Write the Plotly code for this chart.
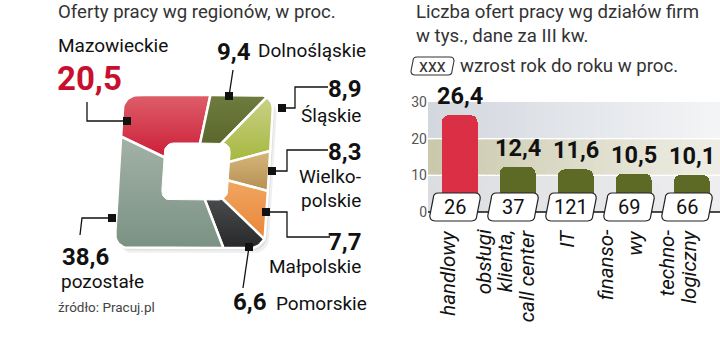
import numpy as np
import plotly.graph_objects as go

# ---------------- data ----------------
regions = ["Mazowieckie", "Dolnośląskie", "Śląskie", "Wielkopolskie",
           "Małpolskie", "Pomorskie", "pozostałe"]
shares = [20.5, 9.4, 8.9, 8.3, 7.7, 6.6, 38.6]
region_top_colors = ["#c8102e", "#4f5a22", "#a2b434", "#b58f52", "#e8853a", "#27282a", "#7a9283"]
region_bot_colors = ["#de5e69", "#6f7c3e", "#c8d186", "#d8b77c", "#f2ab66", "#5d5e60", "#a3b2a6"]

departments = ["handlowy", "obsługi klienta, call center", "IT", "finansowy", "technologiczny"]
dept_label_lines = [["handlowy"], ["obsługi", "klienta,", "call center"], ["IT"],
                    ["finanso-", "wy"], ["techno-", "logiczny"]]
offers_k = [26.4, 12.4, 11.6, 10.5, 10.1]
growth_pct = [26, 37, 121, 69, 66]
bar_colors = ["#da2f45", "#5c6a26", "#5c6a26", "#5c6a26", "#5c6a26"]
y_ticks = [0, 10, 20, 30]

NUM_FONT = "Roboto, Liberation Sans, sans-serif"
TXT_FONT = "Roboto, Noto Sans, sans-serif"

def fmt(v):
    return f"{v:.1f}".replace(".", ",")

# ---------------- geometry helpers (square pie) ----------------
def boundary(theta, cx, cy, a, b, r, k=0.06):
    t = np.radians(theta)
    dx, dy = np.sin(t), -np.cos(t)
    sx = a / abs(dx) if abs(dx) > 1e-9 else np.inf
    sy = b / abs(dy) if abs(dy) > 1e-9 else np.inf
    s = min(sx, sy)
    px, py = s * dx, s * dy
    if abs(px) > a - r + 1e-9 and abs(py) > b - r + 1e-9:
        ccx = np.copysign(a - r, dx)
        ccy = np.copysign(b - r, dy)
        dc = dx * ccx + dy * ccy
        disc = dc * dc - (ccx * ccx + ccy * ccy - r * r)
        s = dc + np.sqrt(max(disc, 0))
        px, py = s * dx, s * dy
    return cx + px - k * py, cy + py

CX, CY, A, B, R = 194, 171.5, 75, 76.5, 14
HX, HY, HA, HB, HR = 196, 171.5, 33, 28.5, 9
START = -65

fig = go.Figure()

# shadow
for off, alpha in [((4, 5), 0.06), ((2, 2.5), 0.07)]:
    pts = [boundary(t, CX + off[0], CY + off[1], A, B, R) for t in np.arange(0, 361, 2)]
    fig.add_trace(go.Scatter(x=[p[0] for p in pts], y=[p[1] for p in pts], fill="toself",
                             fillcolor=f"rgba(0,0,0,{alpha})", line=dict(width=0),
                             mode="lines", hoverinfo="skip", showlegend=False))

cum = START
for name, val, c0, c1 in zip(regions, shares, region_top_colors, region_bot_colors):
    t1 = cum + val * 3.6
    ts = np.linspace(cum, t1, max(int(abs(t1 - cum)), 2) + 1)
    pts = [(CX, CY)] + [boundary(t, CX, CY, A, B, R) for t in ts] + [(CX, CY)]
    fig.add_trace(go.Scatter(
        x=[p[0] for p in pts], y=[p[1] for p in pts], fill="toself", mode="lines",
        fillgradient=dict(type="vertical", colorscale=[[0, c0], [1, c1]]),
        line=dict(color="white", width=2.5), name=name, hoverinfo="name", showlegend=False))
    cum = t1

hole = [boundary(t, HX, HY, HA, HB, HR) for t in np.arange(0, 361, 2)]
fig.add_trace(go.Scatter(x=[p[0] for p in hole], y=[p[1] for p in hole], fill="toself",
                         fillcolor="white", line=dict(color="white", width=1),
                         mode="lines", hoverinfo="skip", showlegend=False))

shapes = []
annotations = []

# ---------------- bar chart background bands (gradient strips, below traces) ----------------
def mix(c0, c1, f):
    a = [int(c0[i:i + 2], 16) for i in (1, 3, 5)]
    b = [int(c1[i:i + 2], 16) for i in (1, 3, 5)]
    return "rgb(%d,%d,%d)" % tuple(round(a[k] + (b[k] - a[k]) * f) for k in range(3))

X_LEFT = 428 / 720
N_STRIPS = 30
bands = [((20.2, 30), "#d2d7de", "#f3f4f6"), ((10.2, 19.8), "#cac8ab", "#efeee6"),
         ((0, 9.8), "#dcdde0", "#eeeef0")]
for (y0, y1), c0, c1 in bands:
    for s in range(N_STRIPS):
        xa = X_LEFT + (1 - X_LEFT) * s / N_STRIPS
        xb = X_LEFT + (1 - X_LEFT) * (s + 1) / N_STRIPS
        shapes.append(dict(type="rect", xref="paper", yref="y2", x0=xa, x1=xb + 0.002, y0=y0, y1=y1,
                           fillcolor=mix(c0, c1, (s + 0.5) / N_STRIPS), line=dict(width=0),
                           layer="below"))

XR = [-0.466, 4.569]
BAR_W, BAR_SHIFT = 0.62, 0.08
fig.add_trace(go.Bar(x=list(range(len(departments))), y=offers_k, xaxis="x2", yaxis="y2",
                     width=BAR_W, offset=-BAR_W / 2 + BAR_SHIFT,
                     marker=dict(color=bar_colors, line=dict(width=0), cornerradius=7),
                     hovertext=departments, showlegend=False))

# zero line
shapes.append(dict(type="line", xref="paper", yref="y2", x0=X_LEFT, x1=1, y0=0, y1=0,
                   line=dict(color="#111", width=1.5)))

# growth boxes
def box_path(xc, y0, y1, hw, rx, ry, sk):
    xl0, xr0 = xc - hw - sk, xc + hw - sk   # bottom
    xl1, xr1 = xc - hw + sk, xc + hw + sk   # top
    return (f"M {xl0+rx},{y0} L {xr0-rx},{y0} Q {xr0},{y0} {xr0},{y0+ry} "
            f"L {xr1},{y1-ry} Q {xr1},{y1} {xr1-rx},{y1} L {xl1+rx},{y1} "
            f"Q {xl1},{y1} {xl1},{y1-ry} L {xl0},{y0+ry} Q {xl0},{y0} {xl0+rx},{y0} Z")

for i, g in enumerate(growth_pct):
    shapes.append(dict(type="path", xref="x2", yref="y2",
                       path=box_path(i, -2.45, 5.18, 0.405, 0.09, 1.4, 0.03),
                       fillcolor="white", line=dict(color="#222", width=1.2)))
    annotations.append(dict(x=i, y=1.36, xref="x2", yref="y2", text=str(g), showarrow=False,
                            xanchor="center", yanchor="middle",
                            font=dict(family=NUM_FONT, size=20, color="#111")))
    annotations.append(dict(x=i + BAR_SHIFT, y=offers_k[i], xref="x2", yref="y2",
                            text=fmt(offers_k[i]), showarrow=False, xanchor="center",
                            yanchor="bottom", yshift=3,
                            font=dict(family=NUM_FONT, size=23.5, color="#111", weight="bold")))

label_shifts = [[-7], [-29, -8, 14], [-4], [-23, 6], [-20, 2]]
for i, lines in enumerate(dept_label_lines):
    for line, xs in zip(lines, label_shifts[i]):
        annotations.append(dict(x=i, y=-4.3, xref="x2", yref="y2", text=line, showarrow=False,
                                textangle=-90, xanchor="center", yanchor="top", xshift=xs,
                                font=dict(family=TXT_FONT, size=20.5, color="#111", style="italic")))

# ---------------- left-side labels and leaders ----------------
def txt(text, x, y, anchor="left", size=19, color="#111", family=TXT_FONT, weight="normal"):
    annotations.append(dict(x=x, y=y, xref="x", yref="y", text=text, showarrow=False,
                            xanchor=anchor, yanchor="middle",
                            font=dict(family=family, size=size, color=color, weight=weight)))

txt("Oferty pracy wg regionów, w proc.", 56, 11.5, size=18.6, color="#333")
txt(regions[0], 56, 45.5)
txt(fmt(shares[0]), 55, 78, size=33, color="#c8102e", family=NUM_FONT, weight="bold")
txt(fmt(shares[1]), 215, 51.5, size=24, family=NUM_FONT, weight="bold")
txt(regions[1], 256, 50.5)
txt(fmt(shares[2]), 363, 88.5, anchor="right", size=24, family=NUM_FONT, weight="bold")
txt(regions[2], 363, 115, anchor="right")
txt(fmt(shares[3]), 363, 151.5, anchor="right", size=24, family=NUM_FONT, weight="bold")
txt("Wielko-", 363, 176.5, anchor="right")
txt("polskie", 363, 200.5, anchor="right")
txt(fmt(shares[4]), 363, 241.5, anchor="right", size=24, family=NUM_FONT, weight="bold")
txt(regions[4], 363, 266.5, anchor="right")
txt(fmt(shares[5]), 231, 301.5, size=24, family=NUM_FONT, weight="bold")
txt(regions[5], 274, 303.5)
txt(fmt(shares[6]), 60, 257, size=24, family=NUM_FONT, weight="bold")
txt(regions[6], 59, 281)
txt("źródło: Pracuj.pl", 56, 307, size=13.5, color="#444")

leaders = [
    [(127, 121), (87, 121), (87, 102)],
    [(229, 96), (233, 70)],
    [(282, 108), (295, 108), (295, 87), (328, 87)],
    [(272, 171), (287, 171), (287, 150), (328, 150)],
    [(266, 212), (287, 212), (287, 237), (330, 237)],
    [(249, 247), (243, 288)],
    [(112, 218), (82, 218), (80, 235)],
]
for pl in leaders:
    path = "M " + " L ".join(f"{x},{y}" for x, y in pl)
    shapes.append(dict(type="path", xref="x", yref="y", path=path,
                       line=dict(color="#111", width=1.3)))
    mx, my = pl[0]
    shapes.append(dict(type="rect", xref="x", yref="y", x0=mx - 4, x1=mx + 4, y0=my - 4, y1=my + 4,
                       fillcolor="#111", line=dict(width=0)))

# ---------------- right-side titles ----------------
txt("Liczba ofert pracy wg działów firm", 414, 11.7, size=18.6, color="#333")
txt("w tys., dane za III kw.", 414, 35.7, size=18.6, color="#333")
shapes.append(dict(type="path", xref="x", yref="y",
                   path="M 417,57 L 450,57 Q 454,57 454,61 L 452,71 Q 452,75 448,75 L 415,75 "
                        "Q 411,75 411,71 L 413,61 Q 413,57 417,57 Z",
                   fillcolor="white", line=dict(color="#333", width=1.1)))
txt("xxx", 432.5, 65.5, anchor="center", size=18, color="#333")
txt("wzrost rok do roku w proc.", 458, 65.7, size=18.6, color="#333")

# ---------------- layout ----------------
PX_PER_UNIT = 3.667
Y0_PIX = 212
y2_range = [(Y0_PIX - 363) / PX_PER_UNIT, Y0_PIX / PX_PER_UNIT]

fig.update_layout(
    width=720, height=363, margin=dict(l=0, r=0, t=0, b=0),
    paper_bgcolor="white", plot_bgcolor="rgba(0,0,0,0)",
    xaxis=dict(domain=[0, 1], range=[0, 720], visible=False, fixedrange=True),
    yaxis=dict(domain=[0, 1], range=[363, 0], visible=False, fixedrange=True),
    xaxis2=dict(domain=[X_LEFT, 1], range=XR, anchor="y2", visible=False, fixedrange=True),
    yaxis2=dict(domain=[0, 1], range=y2_range, anchor="x2", tickvals=y_ticks,
                showgrid=False, zeroline=False, showline=False, ticks="",
                tickfont=dict(family=TXT_FONT, size=14, color="#555"), fixedrange=True),
    shapes=shapes, annotations=annotations, bargap=0, showlegend=False,
)

fig.write_html("out.html", config={"displayModeBar": False, "staticPlot": True},
               post_script="document.body.style.margin='0';document.body.style.overflow='hidden';")
